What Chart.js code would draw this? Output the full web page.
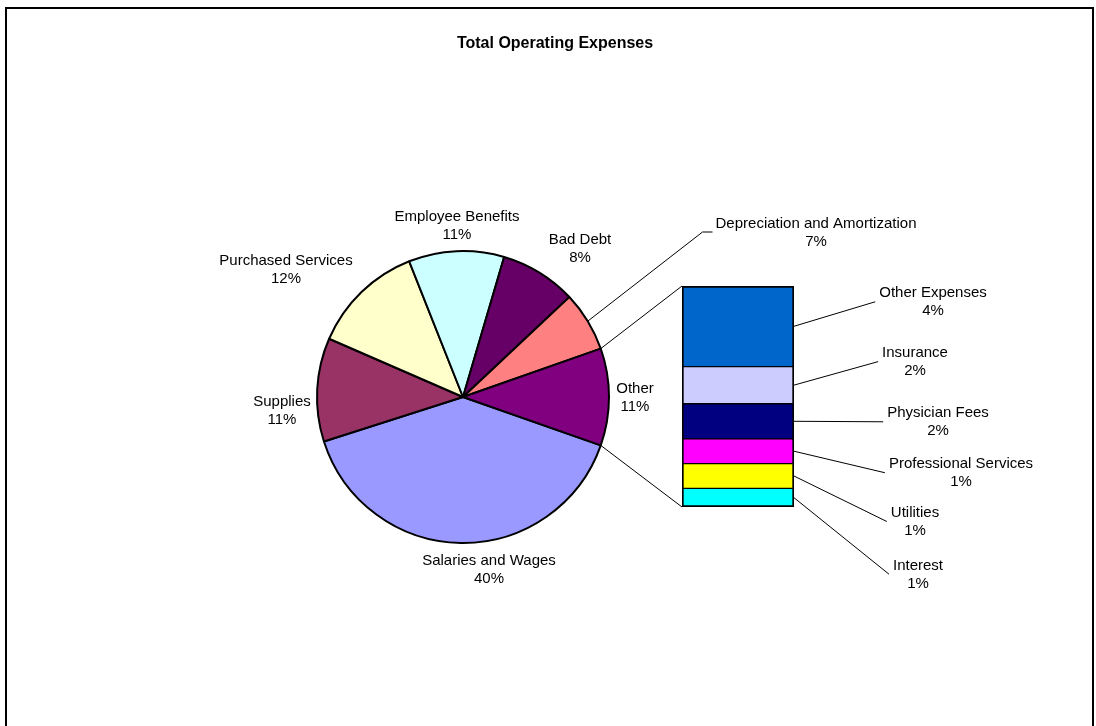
<!DOCTYPE html>
<html>
<head>
<meta charset="utf-8">
<title>Total Operating Expenses</title>
<script src="https://cdn.jsdelivr.net/npm/chart.js@4.4.1/dist/chart.umd.min.js"></script>
<style>
  html, body { margin: 0; padding: 0; background: #fff; }
  #wrap { position: relative; width: 1096px; height: 726px; overflow: hidden; background: #fff; }
  #frame { position: absolute; left: 5px; top: 7px; width: 1085px; height: 800px;
           border-left: 2px solid #000; border-top: 2px solid #000; border-right: 2px solid #000; }
  canvas { position: absolute; left: 0; top: 0; }
</style>
</head>
<body>
<div id="wrap">
  <div id="frame"></div>
  <canvas id="pie" width="1096" height="726"></canvas>
  <canvas id="bar" width="1096" height="726"></canvas>
</div>
<script>
// ---- data -------------------------------------------------------------
const chartTitle = 'Total Operating Expenses';

// main pie (the last slice "Other" is the sum of the breakdown below)
const pieLabels = ['Salaries and Wages', 'Supplies', 'Purchased Services', 'Employee Benefits',
                   'Bad Debt', 'Depreciation and Amortization', 'Other'];
const pieValues = [39.5, 11.4, 12.4, 10.5, 8.4, 6.6];

// breakdown of "Other", listed bottom to top of the stacked bar
const barLabels = ['Interest', 'Utilities', 'Professional Services', 'Physician Fees',
                   'Insurance', 'Other Expenses'];
const barValues = [0.9, 1.2, 1.2, 1.7, 1.8, 3.9];

// ---- styles -----------------------------------------------------------
const pieColors = ['#9999FF', '#993366', '#FFFFCC', '#CCFFFF', '#660066', '#FF8080', '#800080'];
const barColors = ['#00FFFF', '#FFFF00', '#FF00FF', '#000080', '#CCCCFF', '#0066CC'];
const FONT = "'Liberation Sans', Arial, sans-serif";
const LINE_H = 18;

// label anchors: centre x / first baseline, relative to the pie centre
const pieLabelPos = [[26, 168], [-181, 9], [-177, -132], [-6, -176], [117, -153], [353, -169], [172, -4]];
const pieLeaderIndex = 5;   // slice whose label sits apart with a leader line
// label anchors relative to the right-middle of each bar segment
const barLabelPos = [[124, 72], [121, 41], [167, 17], [144, -4], [121, -28], [139, -29]];

// ---- derived ----------------------------------------------------------
const otherTotal = barValues.reduce((a, b) => a + b, 0);
const pieData = pieValues.concat([otherTotal]);
const grandTotal = pieData.reduce((a, b) => a + b, 0);
const pct = v => Math.round(v / grandTotal * 100) + '%';
const otherShare = otherTotal / grandTotal;

const pieChart = new Chart(document.getElementById('pie'), {
  type: 'pie',
  data: {
    labels: pieLabels,
    datasets: [{ data: pieData, backgroundColor: pieColors, borderColor: '#000', borderWidth: 2 }]
  },
  options: {
    responsive: false,
    animation: false,
    events: [],
    // the "Other" slice is centred on the horizontal, facing the bar
    rotation: 90 + otherShare * 180,
    radius: 146,
    layout: { padding: { left: 0, right: 170, top: 68, bottom: 0 } },
    plugins: { legend: { display: false }, tooltip: { enabled: false } }
  }
});

function drawBlock(ctx, lines, cx, baseline) {
  ctx.textAlign = 'center';
  ctx.textBaseline = 'alphabetic';
  lines.forEach((t, k) => ctx.fillText(t, cx, baseline + k * LINE_H));
  return Math.max(...lines.map(t => ctx.measureText(t).width));
}

function line(ctx, pts) {
  ctx.beginPath();
  ctx.moveTo(pts[0][0], pts[0][1]);
  for (let k = 1; k < pts.length; k++) ctx.lineTo(pts[k][0], pts[k][1]);
  ctx.stroke();
}

const annotations = {
  id: 'annotations',
  afterDraw(chart) {
    const ctx = chart.ctx;
    ctx.save();
    ctx.fillStyle = '#000';
    ctx.strokeStyle = '#000';
    ctx.lineWidth = 1;

    // title
    ctx.font = 'bold 16px ' + FONT;
    ctx.textAlign = 'center';
    ctx.fillText(chartTitle, 555, 48);

    // pie labels
    ctx.font = '15px ' + FONT;
    const arcs = pieChart.getDatasetMeta(0).data;
    arcs.forEach((arc, i) => {
      const p = arc.getProps(['x', 'y', 'startAngle', 'endAngle', 'outerRadius'], true);
      const cx = p.x + pieLabelPos[i][0];
      const by = p.y + pieLabelPos[i][1];
      const w = drawBlock(ctx, [pieLabels[i], pct(pieData[i])], cx, by);
      if (i === pieLeaderIndex) {
        const mid = (p.startAngle + p.endAngle) / 2;
        const sx = p.x + Math.cos(mid) * p.outerRadius;
        const sy = p.y + Math.sin(mid) * p.outerRadius;
        const left = cx - w / 2;
        line(ctx, [[sx, sy], [left - 13, by + 4], [left - 3, by + 4]]);
      }
    });

    // connectors from the "Other" slice to the bar
    const other = arcs[arcs.length - 1].getProps(['x', 'y', 'startAngle', 'endAngle', 'outerRadius'], true);
    const metas = barLabels.map((_, i) => chart.getDatasetMeta(i).data[0].getProps(['x', 'y', 'base', 'width'], true));
    const topSeg = metas[metas.length - 1];
    const botSeg = metas[0];
    const barLeft = topSeg.x - topSeg.width / 2;
    const barRight = topSeg.x + topSeg.width / 2;
    line(ctx, [[other.x + Math.cos(other.startAngle) * other.outerRadius,
                other.y + Math.sin(other.startAngle) * other.outerRadius],
               [barLeft, Math.min(topSeg.y, topSeg.base)]]);
    line(ctx, [[other.x + Math.cos(other.endAngle) * other.outerRadius,
                other.y + Math.sin(other.endAngle) * other.outerRadius],
               [barLeft, Math.max(botSeg.y, botSeg.base)]]);

    // bar labels with leader lines
    metas.forEach((m, i) => {
      const midY = (m.y + m.base) / 2;
      const cx = barRight + barLabelPos[i][0];
      const by = midY + barLabelPos[i][1];
      const w = drawBlock(ctx, [barLabels[i], pct(barValues[i])], cx, by);
      line(ctx, [[barRight, midY], [cx - w / 2 - 4, by + 4.5]]);
    });
    ctx.restore();
  }
};

const lastBar = barLabels.length - 1;
const barChart = new Chart(document.getElementById('bar'), {
  type: 'bar',
  data: {
    labels: [''],
    datasets: barLabels.map((name, i) => ({
      label: name,
      data: [barValues[i]],
      backgroundColor: barColors[i],
      borderColor: '#000',
      borderWidth: { top: i === lastBar ? 2 : 1, bottom: i === 0 ? 2 : 1, left: 2, right: 2 },
      borderSkipped: false,
      barPercentage: 1,
      categoryPercentage: 1
    }))
  },
  options: {
    responsive: false,
    animation: false,
    events: [],
    layout: { padding: { left: 682, right: 302, top: 286, bottom: 219 } },
    scales: {
      x: { stacked: true, display: false },
      y: { stacked: true, display: false, min: 0, max: otherTotal }
    },
    plugins: { legend: { display: false }, tooltip: { enabled: false } }
  },
  plugins: [annotations]
});
</script>
</body>
</html>
